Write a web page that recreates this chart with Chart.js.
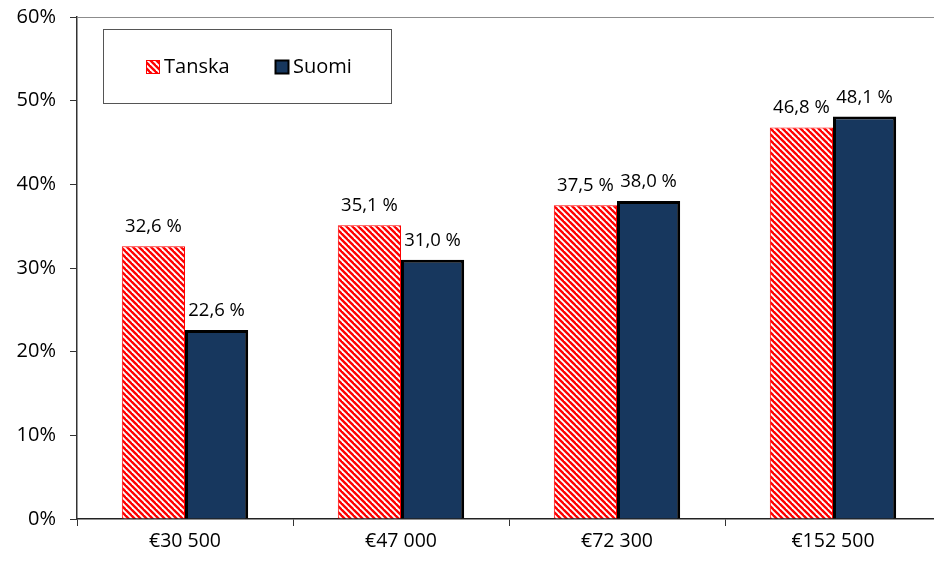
<!DOCTYPE html>
<html>
<head>
<meta charset="utf-8">
<script src="https://cdn.jsdelivr.net/npm/chart.js@4.4.1/dist/chart.umd.min.js"></script>
<style>
  html, body { margin: 0; padding: 0; background: #fff; overflow: hidden; }
  #wrap { width: 950px; height: 563px; position: relative; }
</style>
</head>
<body>
<div id="wrap"><canvas id="chart"></canvas></div>
<script>
// Chart data
const categories = ['€30 500', '€47 000', '€72 300', '€152 500'];
const tanska = [32.6, 35.1, 37.5, 46.8];
const suomi = [22.6, 31.0, 38.0, 48.1];
const yTicks = [0, 10, 20, 30, 40, 50, 60];

const FONT = '"Open Sans", "DejaVu Sans", sans-serif';

// Red diagonal stripe pattern for Tanska
function stripePattern() {
    const c = document.createElement('canvas');
    c.width = 6; c.height = 6;
    const g = c.getContext('2d');
    g.fillStyle = '#fff';
    g.fillRect(0, 0, 6, 6);
    g.strokeStyle = '#ff0000';
    g.lineWidth = 2.4;
    for (let k = -2; k <= 2; k++) {
        g.beginPath();
        g.moveTo(k * 6 - 1, -1);
        g.lineTo(k * 6 + 7, 7);
        g.stroke();
    }
    return g.createPattern(c, 'repeat');
}
const redStripes = stripePattern();

const fmt = v => v.toFixed(1).replace('.', ',') + ' %';

// value labels above bars
const labelPlugin = {
    id: 'valueLabels',
    afterDatasetsDraw(chart) {
        const ctx = chart.ctx;
        ctx.save();
        ctx.font = '18.5px ' + FONT;
        ctx.fillStyle = '#000';
        ctx.textAlign = 'center';
        ctx.textBaseline = 'bottom';
        chart.data.datasets.forEach((ds, i) => {
            chart.getDatasetMeta(i).data.forEach((bar, j) => {
                ctx.fillText(fmt(ds.data[j]), bar.x, bar.y - 10);
            });
        });
        ctx.restore();
    }
};

// top frame line + boxed legend
const framePlugin = {
    id: 'frame',
    afterDraw(chart) {
        const ctx = chart.ctx;
        const a = chart.chartArea;
        ctx.save();
        ctx.strokeStyle = '#8c8c8c';
        ctx.lineWidth = 1;
        ctx.beginPath();
        ctx.moveTo(a.left, a.top + 0.5);
        ctx.lineTo(a.right, a.top + 0.5);
        ctx.stroke();

        // legend box
        ctx.fillStyle = '#fff';
        ctx.fillRect(103.5, 29.5, 288, 74);
        ctx.strokeStyle = '#555';
        ctx.strokeRect(103.5, 29.5, 288, 74);

        const items = [
            { x: 146, ds: chart.data.datasets[0] },
            { x: 275, ds: chart.data.datasets[1] }
        ];
        ctx.font = '20px ' + FONT;
        ctx.textBaseline = 'middle';
        items.forEach(it => {
            ctx.fillStyle = it.ds.backgroundColor;
            ctx.fillRect(it.x, 60, 14, 14);
            ctx.lineWidth = it.ds.borderWidth > 1 ? 2 : 1;
            ctx.strokeStyle = it.ds.borderColor;
            ctx.strokeRect(it.x + 0.5, 60.5, 13, 13);
            ctx.fillStyle = '#000';
            ctx.textAlign = 'left';
            ctx.fillText(it.ds.label, it.x + 18, 67);
        });
        ctx.restore();
    }
};

new Chart(document.getElementById('chart'), {
    type: 'bar',
    data: {
        labels: categories,
        datasets: [{
            label: 'Tanska',
            data: tanska,
            backgroundColor: redStripes,
            borderColor: '#ff0000',
            borderWidth: 1,
            categoryPercentage: 0.585,
            barPercentage: 1
        }, {
            label: 'Suomi',
            data: suomi,
            backgroundColor: '#17375e',
            borderColor: '#000000',
            borderWidth: 3,
            categoryPercentage: 0.585,
            barPercentage: 1
        }]
    },
    options: {
        responsive: true,
        maintainAspectRatio: false,
        animation: false,
        layout: { padding: { top: 17, right: 9, left: 0, bottom: 0 } },
        plugins: {
            legend: { display: false },
            tooltip: { enabled: false }
        },
        scales: {
            x: {
                offset: true,
                grid: { offset: true, drawOnChartArea: false, color: '#333', tickLength: 7 },
                border: { color: '#222', width: 1.5 },
                ticks: { color: '#000', font: { family: FONT, size: 19.5 }, padding: 4 },
                afterFit: s => { s.height = 44; s.paddingLeft = 0; s.paddingRight = 0; }
            },
            y: {
                min: 0,
                max: 60,
                afterBuildTicks: s => { s.ticks = yTicks.map(v => ({ value: v })); },
                grid: { drawOnChartArea: false, color: '#333', tickLength: 7 },
                border: { color: '#333', width: 1.5 },
                ticks: {
                    color: '#000',
                    font: { family: FONT, size: 20 },
                    padding: 14,
                    callback: v => v + '%'
                },
                afterFit: s => { s.width = 77; s.paddingTop = 0; s.paddingBottom = 0; }
            }
        }
    },
    plugins: [labelPlugin, framePlugin]
});
</script>
</body>
</html>
